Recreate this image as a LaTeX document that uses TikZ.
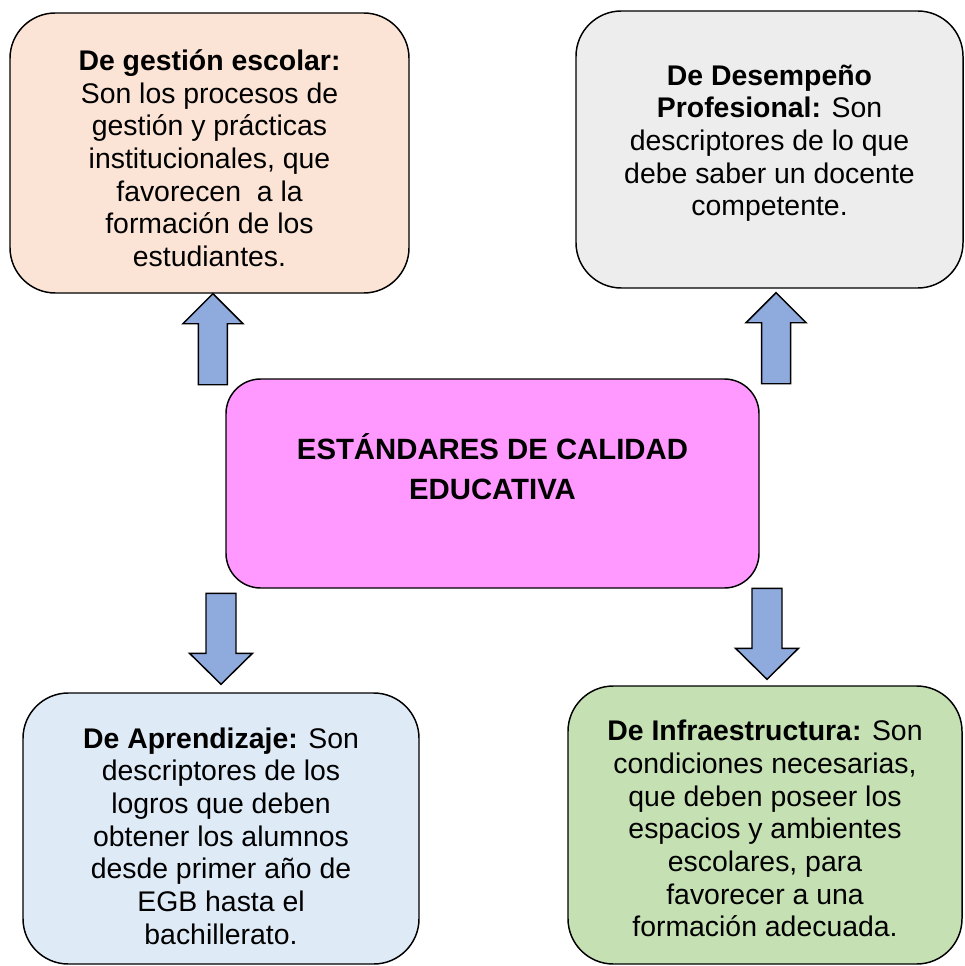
\documentclass[tikz,border=0pt]{standalone}
\usepackage{fontspec}
\setmainfont{Liberation Sans}
\usetikzlibrary{positioning}
\definecolor{durazno}{HTML}{FBE4D5}
\definecolor{gris}{HTML}{EDEDED}
\definecolor{rosa}{HTML}{FF99FF}
\definecolor{celeste}{HTML}{DEEAF6}
\definecolor{verde}{HTML}{C5E0B3}
\definecolor{azulflecha}{HTML}{8FAADC}
\tikzset{caja/.style = {draw, line width = 1.1pt, rounded corners = 34pt, inner sep = 0}}
\tikzset{texto/.style = {align = center, inner sep = 0,
                         font = \fontsize{21.3pt}{24.5pt}\selectfont}}
\tikzset{flechaarriba/.pic = {\draw [line width = 1.1pt, fill = azulflecha]
          (0, 0) -- (30, 30) -- (14.5, 30) -- (14.5, 91) -- (-14.5, 91) -- (-14.5, 30) -- (-30, 30) -- cycle;}}
\tikzset{flechaabajo/.pic = {\draw [line width = 1.1pt, fill = azulflecha]
          (0, 0) -- (31.5, -31) -- (15, -31) -- (15, -91) -- (-15, -91) -- (-15, -31) -- (-31.5, -31) -- cycle;}}
\begin{document}
\begin{tikzpicture}[x = 0.75pt, y = -0.75pt]
      \useasboundingbox (0, 0) rectangle (964, 966);
      \node [caja, fill = durazno, minimum width = 299.25pt, minimum height = 210pt] (gestion) at (209.5, 153) {};
      \node [caja, fill = gris, minimum width = 290.25pt, minimum height = 207.75pt] (desempeno) at (769.5, 149.5) {};
      \node [caja, fill = rosa, rounded corners = 26pt, minimum width = 399.75pt, minimum height = 156.75pt] (centro) at (492.5, 483.5) {};
      \node [caja, fill = celeste, minimum width = 297pt, minimum height = 203.25pt] (aprendizaje) at (221, 828.5) {};
      \node [caja, fill = verde, minimum width = 295.5pt, minimum height = 208.5pt] (infra) at (765, 825) {};
      \node [texto, below = 27.75pt of gestion.north] (tgestion) {\textbf{De gestión escolar:}\\ Son los procesos de\\ gestión y prácticas\\ institucionales, que\\ favorecen\ \ a la\\ formación de los\\ estudiantes.};
      \node [texto, below = 40.5pt of desempeno.north] (tdesempeno) {\textbf{De Desempeño}\\ \textbf{Profesional:} Son\\ descriptores de lo que\\ debe saber un docente\\ competente.};
      \node [texto, font = \fontsize{22pt}{29.6pt}\selectfont\bfseries, below = 41.25pt of centro.north] (tcentro) {ESTÁNDARES DE CALIDAD\\ EDUCATIVA};
      \node [texto, below = 26.25pt of aprendizaje.north] (taprendizaje) {\textbf{De Aprendizaje:} Son\\ descriptores de los\\ logros que deben\\ obtener los alumnos\\ desde primer año de\\ EGB hasta el\\ bachillerato.};
      \node [texto, below = 26pt of infra.north] (tinfra) {\textbf{De Infraestructura:} Son\\ condiciones necesarias,\\ que deben poseer los\\ espacios y ambientes\\ escolares, para\\ favorecer a una\\ formación adecuada.};
      \pic at ([xshift = 2.6pt] gestion.south) {flechaarriba};
      \pic at ([xshift = 4.9pt, yshift = -3pt] desempeno.south) {flechaarriba};
      \pic at ([yshift = 6pt] aprendizaje.north) {flechaabajo};
      \pic at ([xshift = 1.5pt, yshift = 4.5pt] infra.north) {flechaabajo};
    \end{tikzpicture}
\end{document}
